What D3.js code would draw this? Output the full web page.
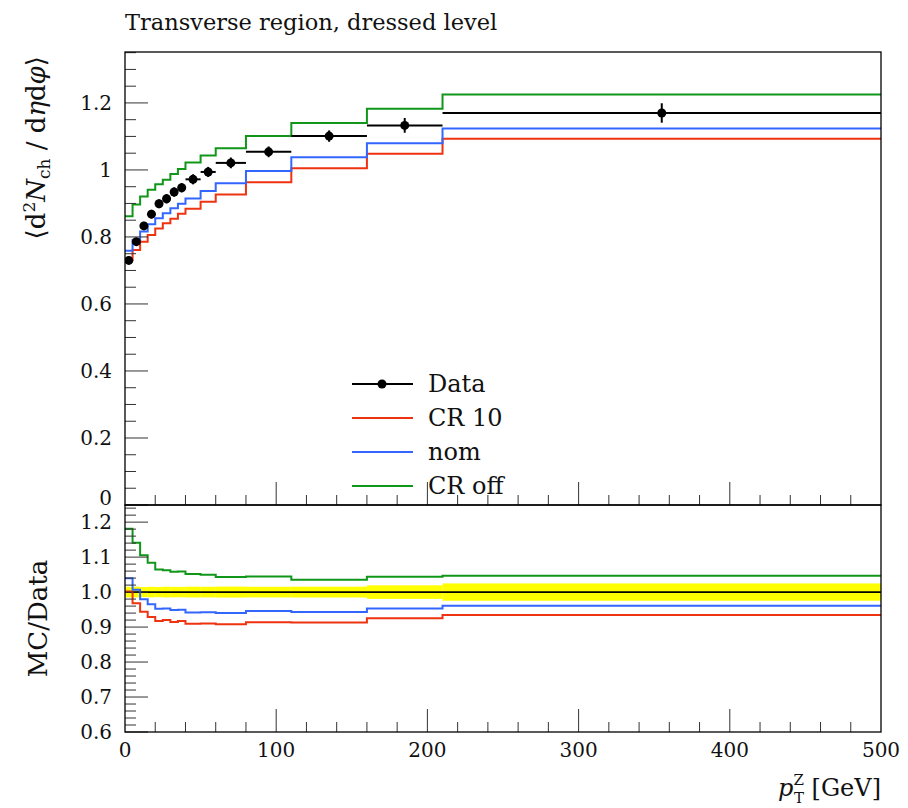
<!DOCTYPE html>
<html>
<head>
<meta charset="utf-8">
<script src="https://cdn.jsdelivr.net/npm/d3@7"></script>
<style>
  html, body { margin: 0; padding: 0; background: #fff; }
  text { font-family: 'DejaVu Serif', 'Liberation Serif', serif; fill: #111; }
</style>
</head>
<body>
<div id="chart"></div>
<script>
// bins in pT^Z [GeV]
const binEdges = [0, 5, 10, 15, 20, 25, 30, 35, 40, 50, 60, 80, 110, 160, 210, 500];

const dataValues = [0.730, 0.786, 0.833, 0.868, 0.899, 0.914, 0.934, 0.947, 0.972, 0.994, 1.021, 1.054, 1.101, 1.133, 1.170];
const dataErrors = [0.011, 0.012, 0.012, 0.013, 0.013, 0.014, 0.014, 0.014, 0.015, 0.015, 0.016, 0.016, 0.017, 0.022, 0.029];

const cr10Values = [0.731, 0.761, 0.786, 0.806, 0.825, 0.841, 0.854, 0.869, 0.884, 0.905, 0.927, 0.963, 1.005, 1.048, 1.093];
const nomValues = [0.759, 0.791, 0.816, 0.838, 0.856, 0.871, 0.886, 0.899, 0.915, 0.937, 0.960, 0.997, 1.038, 1.080, 1.124];
const crOffValues = [0.862, 0.897, 0.921, 0.941, 0.957, 0.971, 0.988, 1.003, 1.022, 1.043, 1.065, 1.101, 1.140, 1.183, 1.225];

const mainTicks = [0, 0.2, 0.4, 0.6, 0.8, 1, 1.2];
const mainTickLabels = ['0', '0.2', '0.4', '0.6', '0.8', '1', '1.2'];
const ratioTicks = [0.6, 0.7, 0.8, 0.9, 1.0, 1.1, 1.2];
const ratioTickLabels = ['0.6', '0.7', '0.8', '0.9', '1.0', '1.1', '1.2'];
const xTicks = [0, 100, 200, 300, 400, 500];

const series = [
  { name: 'CR 10', values: cr10Values, color: '#ee3311' },
  { name: 'nom', values: nomValues, color: '#3366ff' },
  { name: 'CR off', values: crOffValues, color: '#109618' },
];

const width = 908;
const height = 808;
const left = 125;
const plotW = 756;
const mainTop = 52;
const mainH = 453;
const ratioTop = mainTop + mainH;
const ratioH = 227;

const svg = d3
  .select('#chart')
  .append('svg')
  .attr('width', width)
  .attr('height', height);

const x = d3.scaleLinear().domain([0, 500]).range([left, left + plotW]);
const yMain = d3.scaleLinear().domain([0, 1.352]).range([mainTop + mainH, mainTop]);
const yRatio = d3.scaleLinear().domain([0.6, 1.249]).range([ratioTop + ratioH, ratioTop]);

const n = dataValues.length;
const centers = d3.range(n).map((i) => (binEdges[i] + binEdges[i + 1]) / 2);

function stepPoints(values) {
  return binEdges.map((e, i) => [e, values[Math.min(i, n - 1)]]);
}

// clip paths
const defs = svg.append('defs');
defs.append('clipPath').attr('id', 'clip-main')
  .append('rect').attr('x', left).attr('y', mainTop).attr('width', plotW).attr('height', mainH);
defs.append('clipPath').attr('id', 'clip-ratio')
  .append('rect').attr('x', left).attr('y', ratioTop).attr('width', plotW).attr('height', ratioH);

// title
svg.append('text')
  .attr('x', left)
  .attr('y', 30)
  .style('font-size', '22.5px')
  .text('Transverse region, dressed level');

// ---------- main panel ----------
const main = svg.append('g').attr('clip-path', 'url(#clip-main)');

const lineMain = d3.line()
  .x((d) => x(d[0]))
  .y((d) => yMain(d[1]))
  .curve(d3.curveStepAfter);

main.selectAll('.mc')
  .data(series)
  .enter()
  .append('path')
  .attr('class', 'mc')
  .attr('fill', 'none')
  .attr('stroke', (d) => d.color)
  .attr('stroke-width', 2)
  .attr('d', (d) => lineMain(stepPoints(d.values)));

const pts = d3.range(n);

main.selectAll('.xerr')
  .data(pts)
  .enter()
  .append('line')
  .attr('class', 'xerr')
  .attr('x1', (i) => x(binEdges[i]))
  .attr('x2', (i) => x(binEdges[i + 1]))
  .attr('y1', (i) => yMain(dataValues[i]))
  .attr('y2', (i) => yMain(dataValues[i]))
  .attr('stroke', '#000')
  .attr('stroke-width', 2);

main.selectAll('.yerr')
  .data(pts)
  .enter()
  .append('line')
  .attr('class', 'yerr')
  .attr('x1', (i) => x(centers[i]))
  .attr('x2', (i) => x(centers[i]))
  .attr('y1', (i) => yMain(dataValues[i] - dataErrors[i]))
  .attr('y2', (i) => yMain(dataValues[i] + dataErrors[i]))
  .attr('stroke', '#000')
  .attr('stroke-width', 2);

main.selectAll('.pt')
  .data(pts)
  .enter()
  .append('circle')
  .attr('class', 'pt')
  .attr('cx', (i) => x(centers[i]))
  .attr('cy', (i) => yMain(dataValues[i]))
  .attr('r', 4.5)
  .attr('fill', '#000');

// ---------- ratio panel ----------
const ratio = svg.append('g').attr('clip-path', 'url(#clip-ratio)');

ratio.selectAll('.band')
  .data(pts)
  .enter()
  .append('rect')
  .attr('class', 'band')
  .attr('x', (i) => x(binEdges[i]))
  .attr('width', (i) => x(binEdges[i + 1]) - x(binEdges[i]))
  .attr('y', (i) => yRatio(1 + dataErrors[i] / dataValues[i]))
  .attr('height', (i) => yRatio(1 - dataErrors[i] / dataValues[i]) - yRatio(1 + dataErrors[i] / dataValues[i]))
  .attr('fill', '#ffff00');

ratio.append('line')
  .attr('x1', x(0))
  .attr('x2', x(500))
  .attr('y1', yRatio(1))
  .attr('y2', yRatio(1))
  .attr('stroke', '#000')
  .attr('stroke-width', 1.6);

const lineRatio = d3.line()
  .x((d) => x(d[0]))
  .y((d) => yRatio(d[1]))
  .curve(d3.curveStepAfter);

ratio.selectAll('.mcr')
  .data(series)
  .enter()
  .append('path')
  .attr('class', 'mcr')
  .attr('fill', 'none')
  .attr('stroke', (d) => d.color)
  .attr('stroke-width', 2)
  .attr('d', (d) => lineRatio(stepPoints(d.values.map((v, i) => v / dataValues[i]))));

// ---------- ticks ----------
const tickColor = '#333';
const axes = svg.append('g');

function yTicks(scale, majors, minorStep, lo, hi) {
  const minors = d3.range(lo, hi + 1e-9, minorStep)
    .filter((v) => !majors.some((m) => Math.abs(m - v) < 1e-6));
  axes.selectAll(null)
    .data(minors)
    .enter()
    .append('line')
    .attr('x1', left).attr('x2', left + 11)
    .attr('y1', (d) => scale(d)).attr('y2', (d) => scale(d))
    .attr('stroke', tickColor);
  axes.selectAll(null)
    .data(majors)
    .enter()
    .append('line')
    .attr('x1', left).attr('x2', left + 23)
    .attr('y1', (d) => scale(d)).attr('y2', (d) => scale(d))
    .attr('stroke', tickColor);
}

function xTickMarks(yBase) {
  const minors = d3.range(20, 500, 20).filter((v) => v % 100 !== 0);
  axes.selectAll(null)
    .data(minors)
    .enter()
    .append('line')
    .attr('x1', (d) => x(d)).attr('x2', (d) => x(d))
    .attr('y1', yBase).attr('y2', yBase - 10)
    .attr('stroke', tickColor);
  axes.selectAll(null)
    .data(xTicks.slice(1, -1))
    .enter()
    .append('line')
    .attr('x1', (d) => x(d)).attr('x2', (d) => x(d))
    .attr('y1', yBase).attr('y2', yBase - 23)
    .attr('stroke', tickColor);
}

yTicks(yMain, mainTicks, 0.05, 0, 1.35);
yTicks(yRatio, ratioTicks, 0.02, 0.6, 1.24);
xTickMarks(mainTop + mainH);
xTickMarks(ratioTop + ratioH);

// frames
svg.append('rect')
  .attr('x', left).attr('y', mainTop).attr('width', plotW).attr('height', mainH)
  .attr('fill', 'none').attr('stroke', '#000').attr('stroke-width', 1.3);
svg.append('rect')
  .attr('x', left).attr('y', ratioTop).attr('width', plotW).attr('height', ratioH)
  .attr('fill', 'none').attr('stroke', '#000').attr('stroke-width', 1.3);

// tick labels
svg.selectAll('.ylab-main')
  .data(mainTicks)
  .enter()
  .append('text')
  .attr('class', 'ylab-main')
  .attr('x', left - 13)
  .attr('y', (d) => yMain(d) + (d === 0 ? 0 : 7))
  .attr('text-anchor', 'end')
  .style('font-size', '20px')
  .text((d, i) => mainTickLabels[i]);

svg.selectAll('.ylab-ratio')
  .data(ratioTicks)
  .enter()
  .append('text')
  .attr('class', 'ylab-ratio')
  .attr('x', left - 13)
  .attr('y', (d) => yRatio(d) + 7)
  .attr('text-anchor', 'end')
  .style('font-size', '20px')
  .text((d, i) => ratioTickLabels[i]);

svg.selectAll('.xlab')
  .data(xTicks)
  .enter()
  .append('text')
  .attr('class', 'xlab')
  .attr('x', (d) => x(d))
  .attr('y', 757)
  .attr('text-anchor', 'middle')
  .style('font-size', '20px')
  .text((d) => d);

// axis titles
const yTitle = svg.append('text')
  .attr('transform', 'translate(45,56) rotate(-90)')
  .attr('text-anchor', 'end')
  .style('font-size', '26px');
yTitle.append('tspan').text('\u27e8d');
yTitle.append('tspan').attr('dy', -10).style('font-size', '17px').text('2');
yTitle.append('tspan').attr('dy', 10).style('font-style', 'italic').text('N');
yTitle.append('tspan').attr('dy', 5).style('font-size', '17px').text('ch');
yTitle.append('tspan').attr('dy', -5).text(' / d');
yTitle.append('tspan').style('font-style', 'italic').text('\u03b7');
yTitle.append('tspan').text('d');
yTitle.append('tspan').style('font-style', 'italic').text('\u03c6');
yTitle.append('tspan').text('\u27e9');

svg.append('text')
  .attr('transform', `translate(47,${ratioTop + ratioH / 2}) rotate(-90)`)
  .attr('text-anchor', 'middle')
  .style('font-size', '26px')
  .text('MC/Data');

const xTitle = svg.append('text')
  .attr('x', left + plotW)
  .attr('y', 796)
  .attr('text-anchor', 'end')
  .style('font-size', '24px');
xTitle.append('tspan').style('font-style', 'italic').text('p');
xTitle.append('tspan').attr('dy', -11).style('font-size', '15px').text('Z');
xTitle.append('tspan').attr('dx', -10).attr('dy', 18).style('font-size', '15px').text('T');
xTitle.append('tspan').attr('dy', -7).text(' [GeV]');

// legend
const legendItems = [{ name: 'Data', color: '#000', data: true }].concat(series);
const legend = svg.append('g').attr('transform', 'translate(352,384)');
const item = legend.selectAll('.item')
  .data(legendItems)
  .enter()
  .append('g')
  .attr('class', 'item')
  .attr('transform', (d, i) => `translate(0,${i * 34})`);
item.append('line')
  .attr('x1', 0).attr('x2', 61)
  .attr('stroke', (d) => d.color)
  .attr('stroke-width', 2);
item.filter((d) => d.data)
  .append('circle')
  .attr('cx', 30).attr('r', 4.5).attr('fill', '#000');
item.append('text')
  .attr('x', 76)
  .attr('y', 8)
  .style('font-size', '24px')
  .text((d) => d.name);
</script>
</body>
</html>
